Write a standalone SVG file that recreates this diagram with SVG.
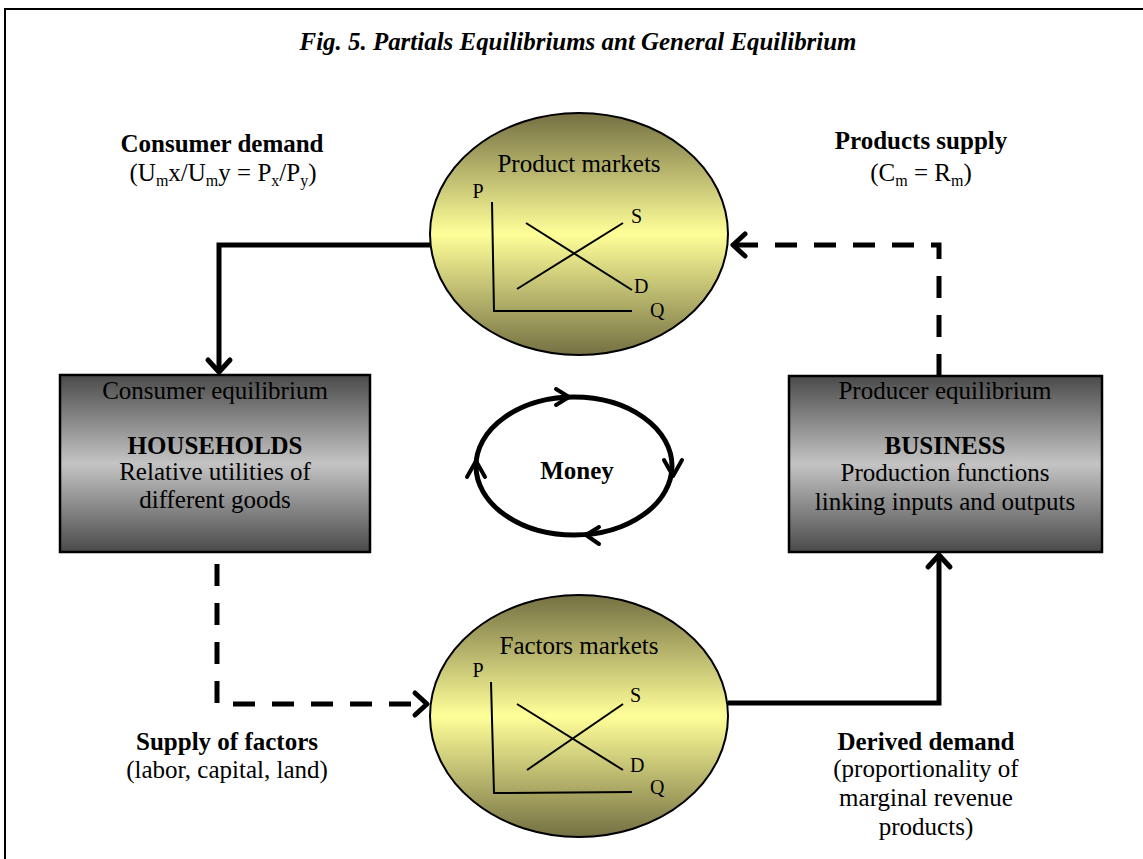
<svg xmlns="http://www.w3.org/2000/svg" width="1143" height="859" viewBox="0 0 1143 859">
<defs>
<linearGradient id="gy" x1="0" y1="0" x2="0" y2="1">
<stop offset="0" stop-color="#747043"/>
<stop offset="0.5" stop-color="#ffff99"/>
<stop offset="1" stop-color="#747043"/>
</linearGradient>
<linearGradient id="gg" x1="0" y1="0" x2="0" y2="1">
<stop offset="0" stop-color="#4a4a4a"/>
<stop offset="0.5" stop-color="#c4c4c4"/>
<stop offset="1" stop-color="#4a4a4a"/>
</linearGradient>
<marker id="ah" markerUnits="userSpaceOnUse" markerWidth="30" markerHeight="30" viewBox="-15 -15 30 30" refX="0" refY="0" orient="auto" overflow="visible">
<path d="M-12,-11 L0,0 L-12,11" fill="none" stroke="#000" stroke-width="5" stroke-linecap="round" stroke-linejoin="round"/>
</marker>
</defs>
<style>
text{font-family:'Liberation Serif','DejaVu Serif',serif;fill:#000}
.t{font-size:25px}
.b{font-weight:bold}
.s{font-size:16px}
.ax{font-size:20px}
.mk{fill:url(#gy);stroke:#000;stroke-width:2}
.bx{fill:url(#gg);stroke:#000;stroke-width:2.5}
.ln{stroke:#000;stroke-width:2;fill:none}
.c{fill:none;stroke:#000;stroke-width:5}
.d{stroke-dasharray:22 17}
.ch{fill:none;stroke:#000;stroke-width:4;stroke-linecap:round;stroke-linejoin:round}
</style>
<rect x="5" y="9" width="1150" height="870" fill="#fff" stroke="#000" stroke-width="2"/>
<text x="578" y="50" class="t b" font-style="italic" font-size="23" text-anchor="middle" textLength="557" lengthAdjust="spacingAndGlyphs">Fig. 5. Partials Equilibriums ant General Equilibrium</text>

<g id="labels">
<text x="222" y="152" class="t b" text-anchor="middle">Consumer demand</text>
<text x="223" y="181" class="t" text-anchor="middle">(U<tspan class="s" dy="5">m</tspan><tspan dy="-5">x/U</tspan><tspan class="s" dy="5">m</tspan><tspan dy="-5">y = P</tspan><tspan class="s" dy="5">x</tspan><tspan dy="-5">/P</tspan><tspan class="s" dy="5">y</tspan><tspan dy="-5">)</tspan></text>
<text x="921" y="149" class="t b" text-anchor="middle">Products supply</text>
<text x="921" y="181" class="t" text-anchor="middle">(C<tspan class="s" dy="5">m</tspan><tspan dy="-5"> = R</tspan><tspan class="s" dy="5">m</tspan><tspan dy="-5">)</tspan></text>
<text x="227" y="750" class="t b" text-anchor="middle">Supply of factors</text>
<text x="227" y="778" class="t" text-anchor="middle">(labor, capital, land)</text>
<text x="926" y="750" class="t b" text-anchor="middle">Derived demand</text>
<text x="926" y="777" class="t" text-anchor="middle">(proportionality of</text>
<text x="926" y="806" class="t" text-anchor="middle">marginal revenue</text>
<text x="926" y="835" class="t" text-anchor="middle">products)</text>
</g>

<g id="connectors">
<path class="c" d="M430,245 H219 V372" marker-end="url(#ah)"/>
<path class="c d" d="M939,376 V245 H733" marker-end="url(#ah)"/>
<path class="c d" d="M217,564 V704 H427" marker-end="url(#ah)"/>
<path class="c" d="M728,703 H939 V555" marker-end="url(#ah)"/>
</g>

<g id="product-markets">
<ellipse class="mk" cx="579" cy="234" rx="149" ry="121"/>
<text x="579" y="172" class="t" text-anchor="middle">Product markets</text>
<path class="ln" d="M492,202 L494,311 L632,311"/>
<path class="ln" d="M517,289 L623,223"/>
<path class="ln" d="M526,223 L632,290"/>
<text x="478" y="198" class="ax" text-anchor="middle">P</text>
<text x="631" y="223" class="ax">S</text>
<text x="634" y="293" class="ax">D</text>
<text x="650" y="317" class="ax">Q</text>
</g>

<g id="factors-markets">
<ellipse class="mk" cx="579" cy="716" rx="149" ry="121"/>
<text x="579" y="654" class="t" text-anchor="middle">Factors markets</text>
<path class="ln" d="M491,682 L494,793 L632,792"/>
<path class="ln" d="M527,770 L623,704"/>
<path class="ln" d="M517,704 L623,770"/>
<text x="478" y="677" class="ax" text-anchor="middle">P</text>
<text x="630" y="702" class="ax">S</text>
<text x="630" y="772" class="ax">D</text>
<text x="650" y="794" class="ax">Q</text>
</g>

<g id="households">
<rect class="bx" x="60" y="375" width="310" height="177"/>
<text x="215" y="399" class="t" text-anchor="middle">Consumer equilibrium</text>
<text x="215" y="454" class="t b" text-anchor="middle">HOUSEHOLDS</text>
<text x="215" y="480" class="t" text-anchor="middle">Relative utilities of</text>
<text x="215" y="508" class="t" text-anchor="middle">different goods</text>
</g>

<g id="business">
<rect class="bx" x="789" y="376" width="313" height="176"/>
<text x="945" y="399" class="t" text-anchor="middle">Producer equilibrium</text>
<text x="945" y="454" class="t b" text-anchor="middle">BUSINESS</text>
<text x="945" y="481" class="t" text-anchor="middle">Production functions</text>
<text x="945" y="510" class="t" text-anchor="middle">linking inputs and outputs</text>
</g>

<g id="money">
<ellipse cx="574" cy="466" rx="98" ry="69" fill="none" stroke="#000" stroke-width="5"/>
<path class="ch" d="M556,389 L569,397 L556,405"/>
<path class="ch" d="M664,460 L673,476 L682,460"/>
<path class="ch" d="M599,527 L586,535 L599,544"/>
<path class="ch" d="M467,477 L476,461 L485,477"/>
<text x="577" y="479" class="t b" text-anchor="middle">Money</text>
</g>
</svg>
